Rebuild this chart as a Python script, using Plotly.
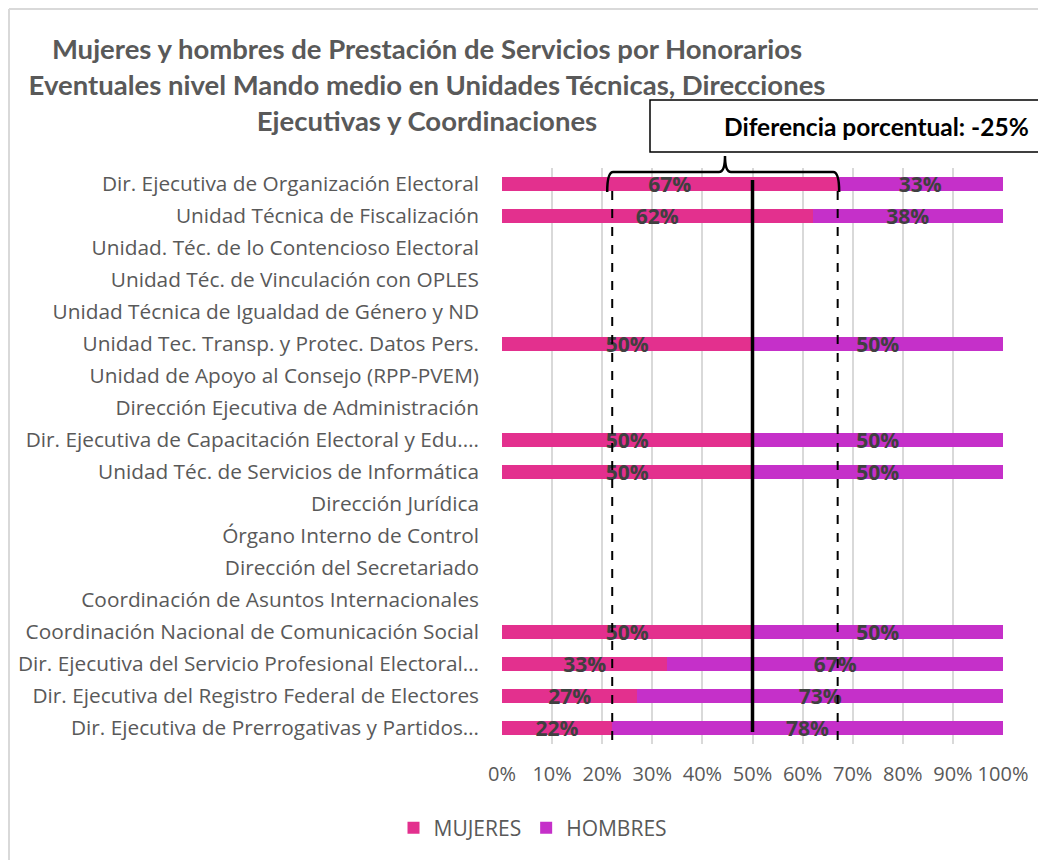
import plotly.graph_objects as go

# datos
categorias = [
    "Dir. Ejecutiva de Organización Electoral",
    "Unidad Técnica de Fiscalización",
    "Unidad. Téc. de lo Contencioso Electoral",
    "Unidad Téc. de Vinculación con OPLES",
    "Unidad Técnica de Igualdad de Género y ND",
    "Unidad Tec. Transp. y Protec. Datos Pers.",
    "Unidad de Apoyo al Consejo (RPP-PVEM)",
    "Dirección Ejecutiva de Administración",
    "Dir. Ejecutiva de Capacitación Electoral y Edu.…",
    "Unidad Téc. de Servicios de Informática",
    "Dirección Jurídica",
    "Órgano Interno de Control",
    "Dirección del Secretariado",
    "Coordinación de Asuntos Internacionales",
    "Coordinación Nacional de Comunicación Social",
    "Dir. Ejecutiva del Servicio Profesional Electoral…",
    "Dir. Ejecutiva del Registro Federal de Electores",
    "Dir. Ejecutiva de Prerrogativas y Partidos…",
]
mujeres = [0.67, 0.62, None, None, None, 0.50, None, None, 0.50, 0.50,
           None, None, None, None, 0.50, 0.33, 0.27, 0.22]
hombres = [0.33, 0.38, None, None, None, 0.50, None, None, 0.50, 0.50,
           None, None, None, None, 0.50, 0.67, 0.73, 0.78]
ticks_x = [i / 10 for i in range(11)]
texto_diferencia = "Diferencia porcentual: -25%"

colores = {'mujeres': '#E3308E', 'hombres': '#C530C9'}
GRIS_TXT = '#595959'
FUENTE = "Open Sans"

# geometría en pixeles de la página (la figura queda desplazada 8px por el margen del body)
OFF = 8
W, H = 1046 - OFF, 860 - OFF
L, R, T, B = 502, 1003, 168, 744
def px(x):
    return (x - L) / (R - L)
def py(y):
    return (B - y) / (B - T)


def etiquetas(vals):
    return [f"{v:.0%}" if v is not None else "" for v in vals]


fig = go.Figure()
for nombre, vals, color in [("MUJERES", mujeres, colores['mujeres']),
                            ("HOMBRES", hombres, colores['hombres'])]:
    fig.add_trace(go.Bar(
        y=categorias, x=vals, name=nombre, orientation='h',
        marker=dict(color=color, line=dict(width=0)),
        text=etiquetas(vals), textposition='inside', insidetextanchor='middle',
        constraintext='none',
        textfont=dict(family=FUENTE, size=21, color='#404040', weight='bold'),
        width=0.43,
    ))

# líneas de referencia: mínimo, máximo y 50%
vals_m = [v for v in mujeres if v is not None]
x_min, x_max = min(vals_m), max(vals_m)
shapes = [
    dict(type='line', xref='x', yref='paper', x0=0.5, x1=0.5,
         y0=py(732), y1=py(180), line=dict(color='black', width=3.5)),
    dict(type='line', xref='x', yref='paper', x0=x_min, x1=x_min,
         y0=py(740), y1=py(186), line=dict(color='black', width=2, dash='dash')),
    dict(type='line', xref='x', yref='paper', x0=x_max, x1=x_max,
         y0=py(740), y1=py(186), line=dict(color='black', width=2, dash='dash')),
]

# llave (rango x == dominio, así que paper x coincide con el dato)
bx0, bx1 = x_min - 0.01, x_max + 0.003
tip = px(725)
yh, ye, yt = py(172), py(192), py(156)
dx = 0.012
path = (f"M {bx0},{ye} Q {bx0},{yh} {bx0+dx},{yh} L {tip-dx},{yh} "
        f"Q {tip},{yh} {tip},{yt} Q {tip},{yh} {tip+dx},{yh} "
        f"L {bx1-dx},{yh} Q {bx1},{yh} {bx1},{ye}")
shapes.append(dict(type='path', xref='paper', yref='paper', path=path,
                   line=dict(color='black', width=2.5)))

# cuadro de texto
shapes.append(dict(type='rect', xref='paper', yref='paper',
                   x0=px(650), x1=px(1060), y0=py(152), y1=py(100),
                   fillcolor='white', line=dict(color='black', width=1.5)))

# marco del gráfico
shapes += [
    dict(type='line', xref='paper', yref='paper', x0=px(9), x1=px(9),
         y0=py(870), y1=py(9), line=dict(color='#D9D9D9', width=2)),
    dict(type='line', xref='paper', yref='paper', x0=px(9), x1=px(1060),
         y0=py(9), y1=py(9), line=dict(color='#D9D9D9', width=2)),
]

fig.update_layout(
    barmode='stack',
    width=W, height=H,
    margin=dict(l=L - OFF, r=W - (R - OFF), t=T - OFF, b=H - (B - OFF),
                autoexpand=False),
    paper_bgcolor='white', plot_bgcolor='white',
    font=dict(family=FUENTE, size=21, color=GRIS_TXT),
    title=dict(
        text="Mujeres y hombres de Prestación de Servicios por Honorarios<br>"
             "Eventuales nivel Mando medio en Unidades Técnicas, Direcciones<br>"
             "Ejecutivas y Coordinaciones",
        font=dict(family="Lato", size=27.5, color=GRIS_TXT, weight='bold'),
        x=(427 - OFF) / W, xanchor='center', xref='container',
        y=1 - (59 - OFF) / H, yanchor='top', yref='container',
    ),
    xaxis=dict(range=[0, 1], tickvals=ticks_x, tickformat='.0%',
               showgrid=True, gridcolor='#D9D9D9', gridwidth=1.5,
               zeroline=False, showline=False, ticks='',
               ticklabelstandoff=16,
               tickfont=dict(size=20, color=GRIS_TXT)),
    yaxis=dict(categoryorder='array', categoryarray=categorias,
               range=[len(categorias) - 0.5, -0.5],
               showgrid=False, zeroline=False, showline=False, ticks='',
               ticklabelstandoff=22,
               tickfont=dict(size=20.8, color=GRIS_TXT)),
    legend=dict(orientation='h', x=px(533), xanchor='center',
                y=py(828), yanchor='middle',
                font=dict(size=21, color=GRIS_TXT), traceorder='normal'),
    shapes=shapes,
    annotations=[dict(
        text=f"<b>{texto_diferencia}</b>", xref='paper', yref='paper',
        x=px(876), y=py(127), showarrow=False, xanchor='center', yanchor='middle',
        font=dict(family="Lato", size=24.5, color='black'),
    )],
    showlegend=True,
)

fig.write_html("out.html")
